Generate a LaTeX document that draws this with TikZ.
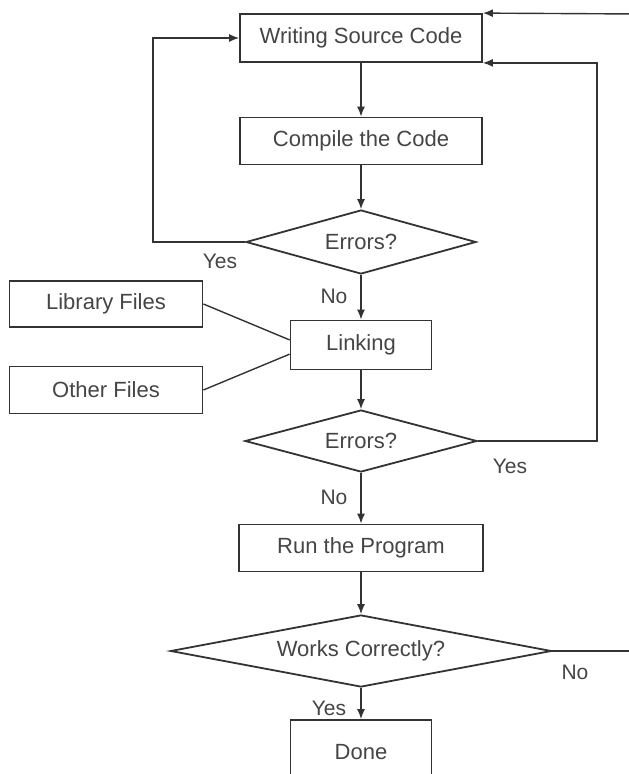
\documentclass[tikz,border=0pt]{standalone}
\usepackage{fontspec}
\setmainfont{Liberation Sans}
\usetikzlibrary{shapes.geometric,arrows.meta,calc}
\definecolor{ink}{HTML}{333333}
\definecolor{txt}{HTML}{454545}
\begin{document}
\begin{tikzpicture}[x=1pt,y=-1pt,
  procbox/.style={draw=ink, line width=1.8pt, rectangle, inner sep=0pt, text=txt, font=\fontsize{22}{26}\selectfont},
  decbox/.style={draw=ink, line width=1.8pt, diamond, inner sep=0pt, text=txt, font=\fontsize{22}{26}\selectfont},
  conn/.style={draw=ink, line width=1.4pt},
  arr/.style={conn, -{Latex[length=10pt,width=8pt]}},
  lbl/.style={text=txt, font=\fontsize{21}{24}\selectfont, inner sep=0pt}]
\useasboundingbox (0,0) rectangle (629,774);
\clip (0,0) rectangle (629,774);
\fill[white] (0,0) rectangle (629,774);

\node[procbox, minimum width=242pt, minimum height=48pt] (write) at (361,38) {Writing Source Code};
\node[procbox, minimum width=242pt, minimum height=47pt] (compile) at (361,141) {Compile the Code};
\node[decbox, aspect=3.6, minimum width=230pt, minimum height=64pt] (err1) at (361,242) {Errors?};
\node[procbox, minimum width=193pt, minimum height=46pt] (lib) at (106,304) {Library Files};
\node[procbox, minimum width=193pt, minimum height=47pt] (oth) at (106,390) {Other Files};
\node[procbox, minimum width=141pt, minimum height=49pt] (link) at (361,345) {Linking};
\node[decbox, aspect=3.7, minimum width=232pt, minimum height=62pt] (err2) at (361,441) {Errors?};
\node[procbox, minimum width=244pt, minimum height=47pt] (run) at (361,548) {Run the Program};
\node[decbox, aspect=5.3, minimum width=381pt, minimum height=72pt] (works) at (361,651) {Works Correctly?};
\node[procbox, minimum width=141pt, minimum height=64pt] (done) at (361,752) {Done};

\coordinate (lc) at (153,242);
\coordinate (rc) at (597,441);
\coordinate (tr) at (640,14);
\coordinate (nr) at (640,651);

\draw[arr] (write) -- (compile);
\draw[arr] (compile) -- (err1);
\draw[arr] (err1) -- (link);
\draw[arr] (link) -- (err2);
\draw[arr] (err2) -- (run);
\draw[arr] (run) -- (works);
\draw[arr] (works) -- (done);
\draw[arr] (err1.west) -- (lc) |- (write.west);
\draw[arr] (err2.east) -- (rc) |- (write.south east);
\draw[arr] (tr) -- (write.north east);
\draw[conn] (works.east) -- (nr);
\draw[conn] (lib.east) -- ($(link.north west)!0.4!(link.south west)$);
\draw[conn] (oth.east) -- ($(link.north west)!0.68!(link.south west)$);

\node[lbl] (y1) at (220,261) {Yes};
\node[lbl] (n1) at (334,296) {No};
\node[lbl] (y2) at (510,466) {Yes};
\node[lbl] (n2) at (334,497) {No};
\node[lbl] (n3) at (575,672) {No};
\node[lbl] (y3) at (329,708) {Yes};
\end{tikzpicture}
\end{document}
